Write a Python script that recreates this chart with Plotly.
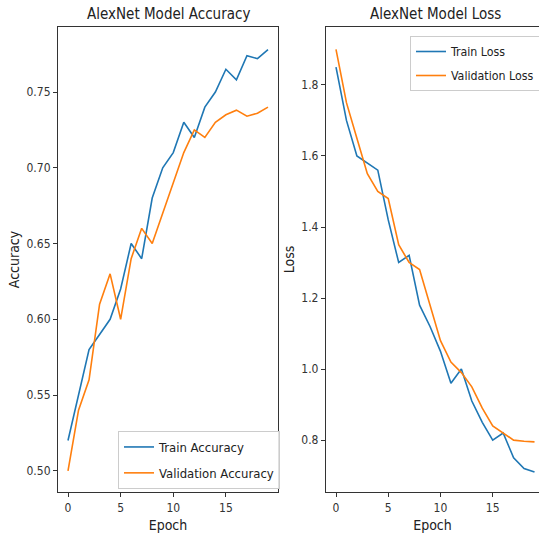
import plotly.graph_objects as go

epochs = list(range(20))
train_acc = [0.52, 0.55, 0.58, 0.59, 0.60, 0.62, 0.65, 0.64, 0.68, 0.70,
             0.71, 0.73, 0.72, 0.74, 0.75, 0.765, 0.758, 0.774, 0.772, 0.778]
val_acc = [0.50, 0.54, 0.56, 0.61, 0.63, 0.60, 0.64, 0.66, 0.65, 0.67,
           0.69, 0.71, 0.725, 0.72, 0.73, 0.735, 0.738, 0.734, 0.736, 0.740]
train_loss = [1.85, 1.70, 1.60, 1.58, 1.56, 1.42, 1.30, 1.32, 1.18, 1.12,
              1.05, 0.96, 1.00, 0.91, 0.85, 0.80, 0.82, 0.75, 0.72, 0.71]
val_loss = [1.90, 1.75, 1.65, 1.55, 1.50, 1.48, 1.35, 1.30, 1.28, 1.18,
            1.08, 1.02, 0.99, 0.95, 0.89, 0.84, 0.82, 0.80, 0.797, 0.795]

acc_ticks = [0.50, 0.55, 0.60, 0.65, 0.70, 0.75]
loss_ticks = [0.8, 1.0, 1.2, 1.4, 1.6, 1.8]
x_ticks = [0, 5, 10, 15]

BLUE = "#1f77b4"
ORANGE = "#ff7f0e"
FONT = "DejaVu Sans Condensed, Liberation Sans Narrow, DejaVu Sans"
W, H = 539, 537

fig = go.Figure()
fig.add_trace(go.Scatter(x=epochs, y=train_acc, mode="lines", name="Train Accuracy",
                         line=dict(color=BLUE, width=1.6), xaxis="x", yaxis="y",
                         legend="legend", legendgroup="a"))
fig.add_trace(go.Scatter(x=epochs, y=val_acc, mode="lines", name="Validation Accuracy",
                         line=dict(color=ORANGE, width=1.6), xaxis="x", yaxis="y",
                         legend="legend", legendgroup="b"))
fig.add_trace(go.Scatter(x=epochs, y=train_loss, mode="lines", name="Train Loss",
                         line=dict(color=BLUE, width=1.6), xaxis="x2", yaxis="y2",
                         legend="legend2", legendgroup="c"))
fig.add_trace(go.Scatter(x=epochs, y=val_loss, mode="lines", name="Validation Loss",
                         line=dict(color=ORANGE, width=1.6), xaxis="x2", yaxis="y2",
                         legend="legend2", legendgroup="d"))

top = 1 - 27 / H
bot = 1 - 492 / H

axis_common = dict(showgrid=False, zeroline=False, showline=True, linecolor="#333",
                   linewidth=1.2, ticks="outside", ticklen=4, tickcolor="#333",
                   tickfont=dict(size=12, color="#333", family=FONT))

fig.update_layout(
    width=W, height=H,
    margin=dict(l=0, r=0, t=0, b=0, autoexpand=False),
    paper_bgcolor="white", plot_bgcolor="white",
    font=dict(family=FONT, color="#222"),
    xaxis=dict(domain=[58 / W, 278 / W], anchor="y", range=[-0.95, 19.95],
               tickvals=x_ticks, mirror=True,
               title=dict(text="Epoch", font=dict(size=14, family=FONT), standoff=6),
               **axis_common),
    yaxis=dict(domain=[bot, top], anchor="x", range=[0.486, 0.7929],
               tickvals=acc_ticks, tickformat=".2f", mirror=True,
               title=dict(text="Accuracy", font=dict(size=14, family=FONT), standoff=3),
               **axis_common),
    xaxis2=dict(domain=[326 / W, 1.0], anchor="y2", range=[-0.957, 19.43],
                tickvals=x_ticks, mirror=True,
                title=dict(text="Epoch", font=dict(size=14, family=FONT), standoff=6),
                **axis_common),
    yaxis2=dict(domain=[bot, top], anchor="x2", range=[0.654, 1.963],
                tickvals=loss_ticks, tickformat=".1f", mirror=False,
                title=dict(text="Loss", font=dict(size=14, family=FONT), standoff=3),
                **axis_common),
    legend=dict(x=118 / W, y=1 - 431 / H, xanchor="left", yanchor="top",
                bgcolor="rgba(255,255,255,0.85)", bordercolor="#cccccc", borderwidth=1,
                font=dict(size=13, family=FONT, color="#222"), tracegroupgap=6),
    legend2=dict(x=410 / W, y=1 - 36 / H, xanchor="left", yanchor="top",
                 bgcolor="rgba(255,255,255,0.85)", bordercolor="#cccccc", borderwidth=1,
                 font=dict(size=12.3, family=FONT, color="#222"), tracegroupgap=5),
    annotations=[
        dict(text="AlexNet Model Accuracy", x=(58 + 278) / 2 / W, y=1 - 14 / H,
             xref="paper", yref="paper", showarrow=False, xanchor="center", yanchor="middle",
             font=dict(size=15, family=FONT, color="#222")),
        dict(text="AlexNet Model Loss", x=435 / W, y=1 - 14 / H,
             xref="paper", yref="paper", showarrow=False, xanchor="center", yanchor="middle",
             font=dict(size=15, family=FONT, color="#222")),
    ],
)

fig.write_html("out.html")
